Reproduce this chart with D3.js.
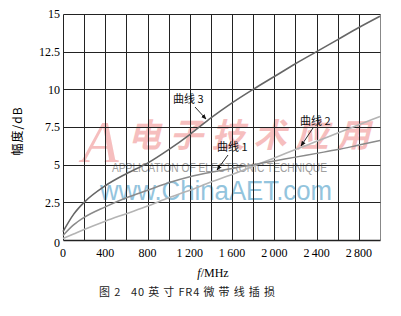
<!DOCTYPE html>
<html>
<head>
<meta charset="utf-8">
<script src="https://cdn.jsdelivr.net/npm/d3@7"></script>
<style>
  body { margin: 0; background: #fff; }
  svg { display: block; }
</style>
</head>
<body>
<svg id="chart" width="401" height="316"></svg>
<script>
const width = 401;
const height = 316;

// frequency points (MHz) and insertion loss (dB)
const freqs = [0, 100, 200, 400, 600, 800, 1000, 1200, 1400, 1600, 1800, 2000, 2200, 2400, 2600, 2800, 3000];
const curve1 = [0.3, 1.0, 1.5, 2.2, 2.8, 3.3, 3.8, 4.2, 4.5, 4.75, 5.0, 5.25, 5.5, 5.75, 6.0, 6.3, 6.6];
const curve2 = [0.1, 0.4, 0.7, 1.25, 1.75, 2.25, 2.8, 3.3, 3.85, 4.35, 4.9, 5.45, 6.0, 6.55, 7.1, 7.65, 8.2];
const curve3 = [0.55, 1.7, 2.5, 3.6, 4.4, 5.1, 6.0, 7.0, 8.1, 9.1, 10.0, 10.85, 11.7, 12.5, 13.3, 14.1, 14.85];

const xTicks = [0, 400, 800, 1200, 1600, 2000, 2400, 2800];
const xGrid = d3.range(0, 3001, 200);
const yTicks = [0, 2.5, 5, 7.5, 10, 12.5, 15];

const serif = "'Liberation Serif', 'DejaVu Serif', serif";
const cjk = "'Noto Sans CJK SC', sans-serif";

const margin = { top: 14, right: 21, bottom: 76, left: 63 };

const svg = d3.select("#chart");

const x = d3.scaleLinear()
    .domain([0, 3000])
    .range([margin.left, width - margin.right]);

const y = d3.scaleLinear()
    .domain([0, 15])
    .range([height - margin.bottom, margin.top]);

// snap grid lines to whole pixels so they stay sharp
const px = v => Math.round(v) + 0.5;

// watermark (sits under the grid)
const wm = svg.append("g").attr("pointer-events", "none");
wm.append("text")
    .attr("x", 82).attr("y", 162)
    .attr("font-family", serif)
    .attr("font-style", "italic")
    .attr("font-size", 60)
    .attr("fill", "#f3a3a3")
    .attr("opacity", 0.7)
    .text("A");
wm.append("text")
    .attr("x", 128).attr("y", 147)
    .attr("font-family", cjk)
    .attr("font-weight", "bold")
    .attr("font-style", "italic")
    .attr("font-size", 33)
    .attr("textLength", 242)
    .attr("fill", "#f3a3a3")
    .attr("opacity", 0.7)
    .text("电子技术应用");
wm.append("text")
    .attr("x", 112).attr("y", 172)
    .attr("font-family", "'Liberation Sans Narrow', 'Liberation Sans', sans-serif")
    .attr("font-size", 13)
    .attr("textLength", 215)
    .attr("lengthAdjust", "spacingAndGlyphs")
    .attr("fill", "#a0a0a0")
    .text("APPLICATION OF ELECTRONIC TECHNIQUE");
wm.append("text")
    .attr("x", 100).attr("y", 200)
    .attr("font-family", "'Liberation Sans', sans-serif")
    .attr("font-size", 27)
    .attr("textLength", 232)
    .attr("lengthAdjust", "spacingAndGlyphs")
    .attr("fill", "#93c4dd")
    .text("www.ChinaAET.com");

// grid
svg.append("g")
    .selectAll("line")
    .data(xGrid)
    .join("line")
    .attr("x1", d => px(x(d))).attr("x2", d => px(x(d)))
    .attr("y1", px(y(0))).attr("y2", px(y(15)))
    .attr("stroke", d => d === 3000 ? "#888" : "#222")
    .attr("stroke-width", 1);

svg.append("g")
    .selectAll("line")
    .data(yTicks)
    .join("line")
    .attr("x1", px(x(0))).attr("x2", px(x(3000)))
    .attr("y1", d => px(y(d))).attr("y2", d => px(y(d)))
    .attr("stroke", "#222")
    .attr("stroke-width", d => d === 0 ? 1.6 : 1);

// curves
const line = d3.line()
    .x((d, i) => x(freqs[i]))
    .y(d => y(d))
    .curve(d3.curveMonotoneX);

const curves = [
    { values: curve2, color: "#b4b4b4", w: 1.6 },
    { values: curve1, color: "#8a8a8a", w: 1.5 },
    { values: curve3, color: "#666", w: 1.6 }
];

svg.append("g")
    .selectAll("path")
    .data(curves)
    .join("path")
    .attr("d", d => line(d.values))
    .attr("fill", "none")
    .attr("stroke", d => d.color)
    .attr("stroke-width", d => d.w);

// tick labels
svg.append("g")
    .selectAll("text")
    .data(xTicks)
    .join("text")
    .attr("x", d => x(d))
    .attr("y", y(0) + 17)
    .attr("text-anchor", "middle")
    .attr("font-family", serif)
    .attr("font-size", 12)
    .text(d => d3.format(",")(d).replace(",", "\u2009"));

svg.append("g")
    .selectAll("text")
    .data(yTicks)
    .join("text")
    .attr("x", x(0) - 3)
    .attr("y", d => y(d) + (d === 0 ? 3 : 0))
    .attr("dy", "0.35em")
    .attr("text-anchor", "end")
    .attr("font-family", serif)
    .attr("font-size", 12)
    .text(d => d);

// axis titles
const xt = svg.append("text")
    .attr("x", 213)
    .attr("y", 277)
    .attr("text-anchor", "middle")
    .attr("font-family", serif)
    .attr("font-size", 12);
xt.append("tspan").attr("font-style", "italic").text("f");
xt.append("tspan").text("/MHz");

svg.append("text")
    .attr("transform", `translate(22,131) rotate(-90)`)
    .attr("text-anchor", "middle")
    .attr("font-family", cjk)
    .attr("font-size", 12)
    .attr("letter-spacing", 1)
    .text("幅度/dB");

// caption
svg.append("text")
    .attr("x", 99)
    .attr("y", 296)
    .attr("font-family", cjk)
    .attr("font-size", 11)
    .attr("fill", "#222")
    .attr("textLength", 176)
    .style("white-space", "pre")
    .text("图 2   40 英 寸 FR4 微 带 线 插 损");

// annotations with arrows
svg.append("defs").append("marker")
    .attr("id", "arrow")
    .attr("viewBox", "0 0 10 10")
    .attr("refX", 9).attr("refY", 5)
    .attr("markerWidth", 6).attr("markerHeight", 6)
    .attr("orient", "auto")
    .append("path")
    .attr("d", "M0,1 L10,5 L0,9 Z")
    .attr("fill", "#111");

const notes = [
    { label: "曲线 3", tx: 173, ty: 103, x1: 195, y1: 107, x2: 206, y2: 119 },
    { label: "曲线 1", tx: 217, ty: 151, x1: 228, y1: 155, x2: 217, y2: 170 },
    { label: "曲线 2", tx: 300, ty: 125, x1: 313, y1: 128, x2: 301, y2: 146 }
];

const ng = svg.append("g");
ng.selectAll("text")
    .data(notes)
    .join("text")
    .attr("x", d => d.tx)
    .attr("y", d => d.ty)
    .attr("font-family", cjk)
    .attr("font-size", 11)
    .attr("fill", "#111")
    .text(d => d.label);

ng.selectAll("line")
    .data(notes)
    .join("line")
    .attr("x1", d => d.x1).attr("y1", d => d.y1)
    .attr("x2", d => d.x2).attr("y2", d => d.y2)
    .attr("stroke", "#111")
    .attr("stroke-width", 0.9)
    .attr("marker-end", "url(#arrow)");
</script>
</body>
</html>
